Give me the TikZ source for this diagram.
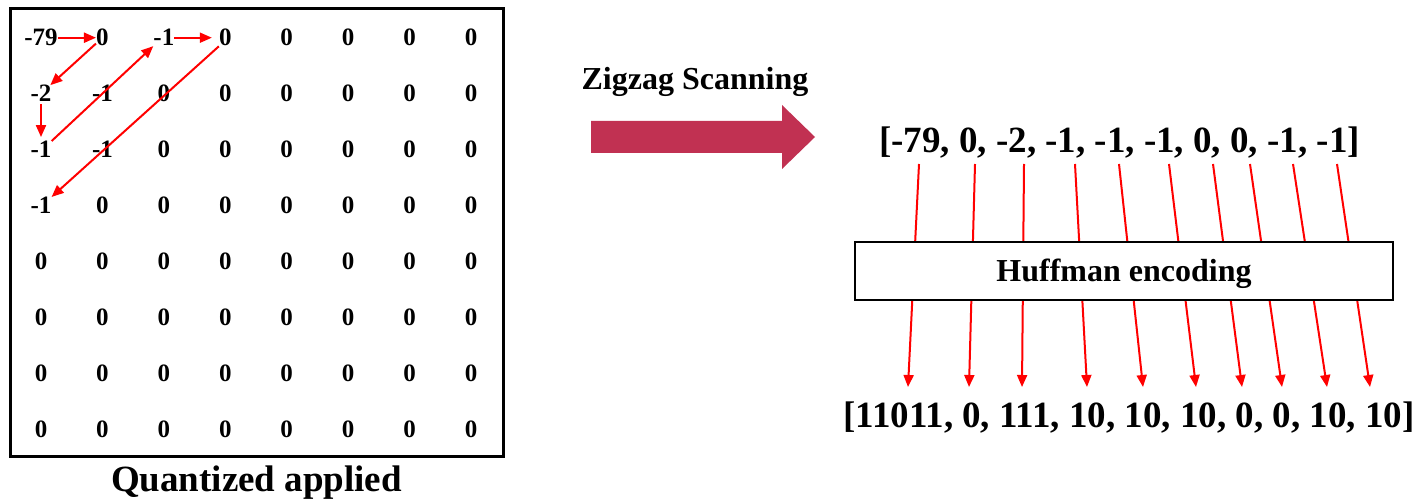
\documentclass[tikz,border=0pt]{standalone}
\usepackage{fontspec}
\setmainfont{Liberation Serif}
\usetikzlibrary{arrows.meta}
\definecolor{scanred}{RGB}{193,49,82}
\tikzset{
  cell/.style={inner sep=0pt, font=\fontsize{25}{29}\selectfont\bfseries},
  zz/.style={red, line width=2pt, -{Triangle[width=10pt,length=12pt]}},
  big/.style={inner sep=0pt, anchor=base, font=\fontsize{37}{42}\selectfont\bfseries},
  mid/.style={inner sep=0pt, anchor=base, font=\fontsize{32}{36}\selectfont\bfseries},
}
\begin{document}
\begin{tikzpicture}[x=1pt,y=-1pt]
\useasboundingbox (0,0) rectangle (1423,502);

% quantized block
\draw [line width=3pt] (10,9) rectangle (503,456);
\foreach \row [count=\r] in {{-79,0,-1,0,0,0,0,0},{-2,-1,0,0,0,0,0,0},{-1,-1,0,0,0,0,0,0},{-1,0,0,0,0,0,0,0},{0,0,0,0,0,0,0,0},{0,0,0,0,0,0,0,0},{0,0,0,0,0,0,0,0},{0,0,0,0,0,0,0,0}}
  \foreach \v [count=\c] in \row
    \node [cell] (m-\r-\c) at ({41+61.43*(\c-1)},{37.7+55.9*(\r-1)}) {\v};
\node [big] (qlabel) at (256.5,491) {Quantized applied};

% zigzag path
\draw [zz] (m-1-1) -- (m-1-2);
\draw [zz] (m-1-2) -- (m-2-1);
\draw [zz, shorten <=2pt, shorten >=4pt] (m-2-1) -- (m-3-1);
\draw [zz] (m-3-1.north east) -- (m-1-3.south west);
\draw [zz, shorten >=7pt] (m-1-3) -- (m-1-4);
\draw [zz] (m-1-4.south west) -- (m-4-1.north east);

% scanning arrow
\node [mid] (scan) at (695,89.3) {Zigzag Scanning};
\fill [scanred] (591,121) -- (782,121) -- (782,105) -- (815,137) -- (782,169) -- (782,153) -- (591,153) -- cycle;

% coding
\node [big] (seq) at (1119.5,153) {[-79, 0, -2, -1, -1, -1, 0, 0, -1, -1]};
\node [big] (code) at (1129,427) {[11011, 0, 111, 10, 10, 10, 0, 0, 10, 10]};
\foreach \xt/\xb [count=\i] in {919/908,975/969,1024/1022,1075/1087,1119/1143,1169/1196,1213/1242,1250/1282,1293/1327,1337/1370}
{
  \coordinate (t-\i) at (\xt,164);
  \coordinate (b-\i) at (\xb,387);
  \draw [zz] (t-\i) -- (b-\i);
}
\node [draw, line width=2pt, fill=white, minimum width=538pt, minimum height=58pt,
  text height=22pt, text depth=0pt, font=\fontsize{32}{36}\selectfont\bfseries] (huff) at (1124,271) {Huffman encoding};
\end{tikzpicture}
\end{document}
